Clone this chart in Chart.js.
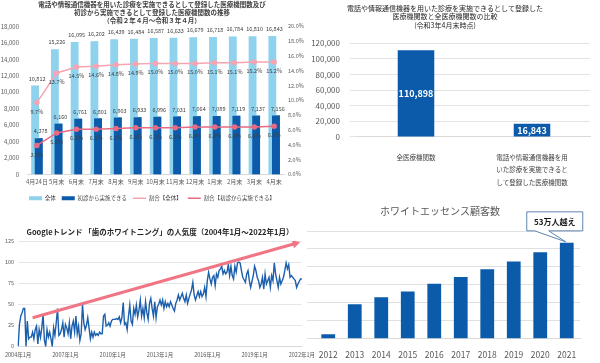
<!DOCTYPE html>
<html>
<head>
<meta charset="utf-8">
<script src="https://cdn.jsdelivr.net/npm/chart.js@4"></script>
<style>
  body { margin: 0; background: #fff; }
  #wrap { position: relative; width: 600px; height: 363px; overflow: hidden; background: #fff; }
  canvas { position: absolute; }
</style>
</head>
<body>
<div id="wrap">
  <canvas id="tr" width="300" height="195" style="left:300px;top:0"></canvas>
  <canvas id="tl" width="304" height="213" style="left:0;top:0"></canvas>
  <canvas id="bl" width="320" height="143" style="left:0;top:220px"></canvas>
  <canvas id="br" width="300" height="168" style="left:300px;top:195px"></canvas>
</div>
<script>
const FONT = "'Noto Sans CJK JP', 'Noto Sans', sans-serif";

// top left: registered institutions by month
const monthLabels = ['4月24日', '5月末', '6月末', '7月末', '8月末', '9月末', '10月末', '11月末', '12月末', '1月末', '2月末', '3月末', '4月末'];
const totalCount = [10812, 15226, 16095, 16202, 16439, 16484, 16587, 16633, 16679, 16718, 16784, 16810, 16843];
const firstVisitCount = [4378, 6160, 6761, 6801, 6903, 6933, 6996, 7031, 7064, 7089, 7119, 7137, 7156];
const totalRatio = [9.7, 13.7, 14.5, 14.6, 14.8, 14.9, 15.0, 15.0, 15.0, 15.1, 15.1, 15.2, 15.2];
const firstVisitRatio = [3.9, 5.6, 6.1, 6.1, 6.2, 6.3, 6.3, 6.3, 6.4, 6.4, 6.4, 6.4, 6.5];

// top right: comparison
const compareLabels = ['全医療機関数', ['電話や情報通信機器を用', 'いた診療を実施できると', 'して登録した医療機関数']];
const compareValues = [110898, 16843];

// bottom left: google trends, monthly 2004/01 - 2022/01
const trendValues = [
  0, 26, 36, 40, 45, 45, 0, 30, 9, 11, 11, 17,      // 2004
  9, 20, 24, 3, 20, 11, 22, 38, 7, 0, 20, 11,       // 2005
  17, 9, 0, 22, 13, 28, 45, 13, 15, 20, 28, 11,     // 2006
  26, 22, 15, 28, 9, 24, 30, 17, 36, 15, 24, 7,     // 2007
  15, 50, 28, 20, 25, 34, 22, 9, 17, 11, 17, 13,    // 2008
  15, 13, 17, 15, 15, 36, 38, 24, 25, 28, 24, 30,   // 2009
  32, 32, 32, 33, 32, 35, 28, 34, 52, 26, 28, 20,   // 2010
  36, 49, 30, 26, 45, 38, 49, 35, 43, 55, 36, 45,   // 2011
  34, 53, 40, 32, 51, 57, 45, 36, 53, 34, 47, 50,   // 2012
  55, 49, 55, 45, 53, 47, 51, 47, 53, 49, 45, 42,   // 2013
  51, 55, 61, 55, 59, 63, 57, 53, 61, 51, 57, 62,   // 2014
  67, 76, 61, 55, 60, 65, 59, 65, 59, 62, 70, 59,   // 2015
  78, 88, 80, 74, 82, 84, 72, 86, 82, 90, 92, 95,   // 2016
  86, 90, 86, 88, 97, 84, 95, 84, 80, 95, 88, 99,   // 2017
  100, 99, 90, 82, 79, 76, 86, 90, 78, 70, 77, 84,  // 2018
  95, 90, 82, 78, 70, 74, 82, 68, 86, 74, 78, 82,   // 2019
  70, 84, 78, 99, 86, 78, 70, 82, 74, 78, 82, 90,   // 2020
  99, 92, 97, 82, 84, 82, 80, 78, 70, 74, 77, 80,   // 2021
  80                                                // 2022
];
const trendArrow = [{ x: '2004年12月', y: 34 }, { x: '2021年8月', y: 122 }];

// bottom right: customers
const customerYears = ['2012', '2013', '2014', '2015', '2016', '2017', '2018', '2019', '2020', '2021'];
const customerCount = [25000, 192000, 231000, 263000, 306000, 344000, 387000, 430000, 482000, 534000];

const trendLabels = [];
for (let y = 2004; y <= 2022; y++) {
  for (let m = 1; m <= 12; m++) {
    if (trendLabels.length < trendValues.length) trendLabels.push(y + '年' + m + '月');
  }
}

Chart.defaults.font.family = FONT;
Chart.defaults.animation = false;

// ---------- top left ----------
const barOverlap = {
  id: 'barOverlap',
  afterDatasetDraw(chart, args) {
    if (args.index === 0) chart.getDatasetMeta(1).controller.draw();
  }
};
const tlValues = {
  id: 'tlValues',
  afterDatasetsDraw(chart) {
    const ctx = chart.ctx;
    ctx.save();
    ctx.font = '5.5px ' + FONT;
    ctx.fillStyle = '#404040';
    ctx.textAlign = 'center';
    ctx.textBaseline = 'middle';
    chart.data.datasets.forEach((ds, i) => {
      chart.getDatasetMeta(i).data.forEach((el, j) => {
        const v = ds.data[j];
        if (ds.type === 'line') {
          ctx.fillText(v.toFixed(1) + '%', el.x, el.y + 9);
        } else {
          ctx.fillText(v.toLocaleString(), el.x + 2, el.y - 7);
        }
      });
    });
    ctx.restore();
  }
};

new Chart(document.getElementById('tl'), {
  type: 'bar',
  data: {
    labels: monthLabels,
    datasets: [
      { label: '全体', data: totalCount, backgroundColor: '#8ED2EE', order: 2,
        categoryPercentage: 0.36, barPercentage: 2.2, yAxisID: 'y' },
      { label: '初診から実施できる', data: firstVisitCount, backgroundColor: '#0B5BAA', order: 3,
        categoryPercentage: 0.36, barPercentage: 2.2, yAxisID: 'y' },
      { type: 'line', label: '割合【全体】', data: totalRatio, borderColor: '#F5A5B2', backgroundColor: '#F5A5B2',
        borderWidth: 1.5, pointRadius: 2, pointBackgroundColor: '#F5A5B2', order: 0, yAxisID: 'y1' },
      { type: 'line', label: '割合【初診から実施できる】', data: firstVisitRatio, borderColor: '#EA6A82', backgroundColor: '#EA6A82',
        borderWidth: 1.5, pointRadius: 2, pointBackgroundColor: '#EA6A82', order: 1, yAxisID: 'y1' }
    ]
  },
  options: {
    responsive: false,
    layout: { padding: { left: 0, right: 0, top: 0, bottom: 2 } },
    plugins: {
      title: {
        display: true,
        text: ['電話や情報通信機器を用いた診療を実施できるとして登録した医療機関数及び',
               '初診から実施できるとして登録した医療機関数の推移',
               '（令和２年４月～令和３年４月）'],
        font: { size: 6.5, weight: 'bold' }, color: '#404040', lineHeight: 1.1,
        padding: { top: 1, bottom: 2 }
      },
      legend: {
        position: 'bottom',
        labels: {
          font: { size: 5.5 }, color: '#404040', boxWidth: 13, boxHeight: 4, padding: 6,
          usePointStyle: true, pointStyleWidth: 13,
          sort: (a, b) => a.datasetIndex - b.datasetIndex,
          generateLabels: chart => {
            const items = Chart.defaults.plugins.legend.labels.generateLabels(chart);
            items.forEach(it => {
              const ds = chart.data.datasets[it.datasetIndex];
              it.pointStyle = ds.type === 'line' ? 'line' : 'rect';
              if (ds.type === 'line') it.lineWidth = 1.5;
            });
            return items;
          }
        }
      },
      tooltip: { enabled: false }
    },
    scales: {
      x: {
        grid: { display: false, drawTicks: false },
        border: { color: '#d9d9d9' },
        ticks: { font: { size: 6 }, color: '#595959', maxRotation: 0, autoSkip: false, padding: 4 }
      },
      y: {
        min: 0, max: 18000,
        ticks: { stepSize: 2000, font: { size: 6 }, color: '#595959', padding: 8, callback: v => v.toLocaleString() },
        grid: { display: false, drawTicks: false }, border: { display: false },
        afterFit: s => { s.width = 27; }
      },
      y1: {
        position: 'right', min: 0, max: 20,
        ticks: { stepSize: 2, font: { size: 5.5 }, color: '#595959', padding: 4, callback: v => v.toFixed(1) + '%' },
        grid: { display: false, drawTicks: false }, border: { display: false },
        afterFit: s => { s.width = 20; }
      }
    }
  },
  plugins: [barOverlap, tlValues]
});

// ---------- top right ----------
const trValues = {
  id: 'trValues',
  afterDatasetsDraw(chart) {
    const ctx = chart.ctx;
    ctx.save();
    ctx.font = 'bold 9px ' + FONT;
    ctx.fillStyle = '#ffffff';
    ctx.textAlign = 'center';
    ctx.textBaseline = 'middle';
    chart.getDatasetMeta(0).data.forEach((el, j) => {
      ctx.fillText(compareValues[j].toLocaleString(), el.x, (el.y + el.base) / 2);
    });
    ctx.restore();
  }
};

new Chart(document.getElementById('tr'), {
  type: 'bar',
  data: {
    labels: compareLabels,
    datasets: [{ data: compareValues, backgroundColor: '#0B5BAA', categoryPercentage: 1, barPercentage: 0.315 }]
  },
  options: {
    responsive: false,
    layout: { padding: { left: 0, right: 10, top: 0, bottom: 0 } },
    plugins: {
      title: {
        display: true,
        text: ['電話や情報通信機器を用いた診療を実施できるとして登録した',
               '医療機関数と全医療機関数の比較',
               '(令和3年4月末時点)'],
        font: { size: 7, weight: 'normal' }, color: '#262626', lineHeight: 1.1,
        padding: { top: 4, bottom: 14 }
      },
      legend: { display: false },
      tooltip: { enabled: false }
    },
    scales: {
      x: {
        grid: { display: false },
        border: { color: '#d9d9d9' },
        ticks: { font: { size: 6.5, lineHeight: 1.95 }, color: '#404040', maxRotation: 0, padding: 6 }
      },
      y: {
        min: 0, max: 120000,
        ticks: { stepSize: 20000, font: { size: 8 }, color: '#595959', padding: 10, callback: v => v.toLocaleString() },
        grid: { color: '#e3e3e3' }, border: { display: false },
        afterFit: s => { s.width = 58; }
      }
    }
  },
  plugins: [trValues]
});

// ---------- bottom left ----------
new Chart(document.getElementById('bl'), {
  type: 'line',
  data: {
    labels: trendLabels,
    datasets: [
      { data: trendArrow, borderColor: '#F07585', backgroundColor: '#F07585', borderWidth: 3,
        pointRadius: [0, 5], pointStyle: 'triangle', pointRotation: 75, pointBorderWidth: 0, order: 0 },
      { data: trendValues, borderColor: '#1C5FAC', borderWidth: 1.4, pointRadius: 0, tension: 0, order: 1 }
    ]
  },
  options: {
    responsive: false,
    layout: { padding: { left: 0, right: 0, top: 0, bottom: 0 } },
    plugins: {
      title: {
        display: true,
        text: 'Googleトレンド 「歯のホワイトニング」の人気度（2004年1月～2022年1月）',
        font: { size: 7.5, weight: 'bold' }, color: '#262626',
        padding: { top: 8, bottom: 4 }, align: 'center'
      },
      legend: { display: false },
      tooltip: { enabled: false }
    },
    scales: {
      x: {
        grid: { display: false, drawTicks: false },
        border: { color: '#d9d9d9' },
        ticks: {
          autoSkip: false, maxRotation: 0, font: { size: 5.5 }, color: '#595959', padding: 5,
          callback: (v, i) => (i % 36 === 0 ? trendLabels[i] : null)
        }
      },
      y: {
        min: 0, max: 125,
        ticks: { stepSize: 25, font: { size: 5.5 }, color: '#595959', padding: 4 },
        grid: { color: '#e6e6e6', drawTicks: false }, border: { display: false },
        afterFit: s => { s.width = 17; }
      }
    }
  }
});

// ---------- bottom right ----------
const callout = {
  id: 'callout',
  afterDatasetsDraw(chart) {
    const meta = chart.getDatasetMeta(0);
    const el = meta.data[meta.data.length - 1];
    const ctx = chart.ctx;
    const bx = el.x - 40, by = el.y - 31, bw = 56, bh = 19;
    ctx.save();
    ctx.beginPath();
    ctx.moveTo(bx, by);
    ctx.lineTo(bx + bw, by);
    ctx.lineTo(bx + bw, by + bh);
    ctx.lineTo(bx + 22, by + bh);
    ctx.lineTo(el.x - 1, el.y - 1);
    ctx.lineTo(bx + 8, by + bh);
    ctx.lineTo(bx, by + bh);
    ctx.closePath();
    ctx.fillStyle = '#ffffff';
    ctx.fill();
    ctx.strokeStyle = '#5F84AE';
    ctx.lineWidth = 1;
    ctx.stroke();
    ctx.font = 'bold 8px ' + FONT;
    ctx.fillStyle = '#1a1a1a';
    ctx.textAlign = 'center';
    ctx.textBaseline = 'middle';
    ctx.fillText('53万人越え', bx + bw / 2, by + bh / 2 + 0.5);
    ctx.restore();
  }
};

new Chart(document.getElementById('br'), {
  type: 'bar',
  data: {
    labels: customerYears,
    datasets: [{ data: customerCount, backgroundColor: '#0B5BAA', categoryPercentage: 1, barPercentage: 0.52 }]
  },
  options: {
    responsive: false,
    layout: { padding: { left: 0, right: 20, top: 0, bottom: 0 } },
    plugins: {
      title: {
        display: true,
        text: 'ホワイトエッセンス顧客数',
        font: { size: 10, weight: 'normal' }, color: '#595959',
        padding: { top: 10, bottom: 14 }
      },
      legend: { display: false },
      tooltip: { enabled: false }
    },
    scales: {
      x: {
        grid: { display: false },
        border: { color: '#d9d9d9' },
        ticks: { font: { size: 8.5 }, color: '#595959', padding: 3 }
      },
      y: {
        min: 0, max: 600000,
        ticks: { stepSize: 100000, display: false },
        grid: { color: '#e0e0e0' }, border: { display: false },
        afterFit: s => { s.width = 15; }
      }
    }
  },
  plugins: [callout]
});
</script>
</body>
</html>
